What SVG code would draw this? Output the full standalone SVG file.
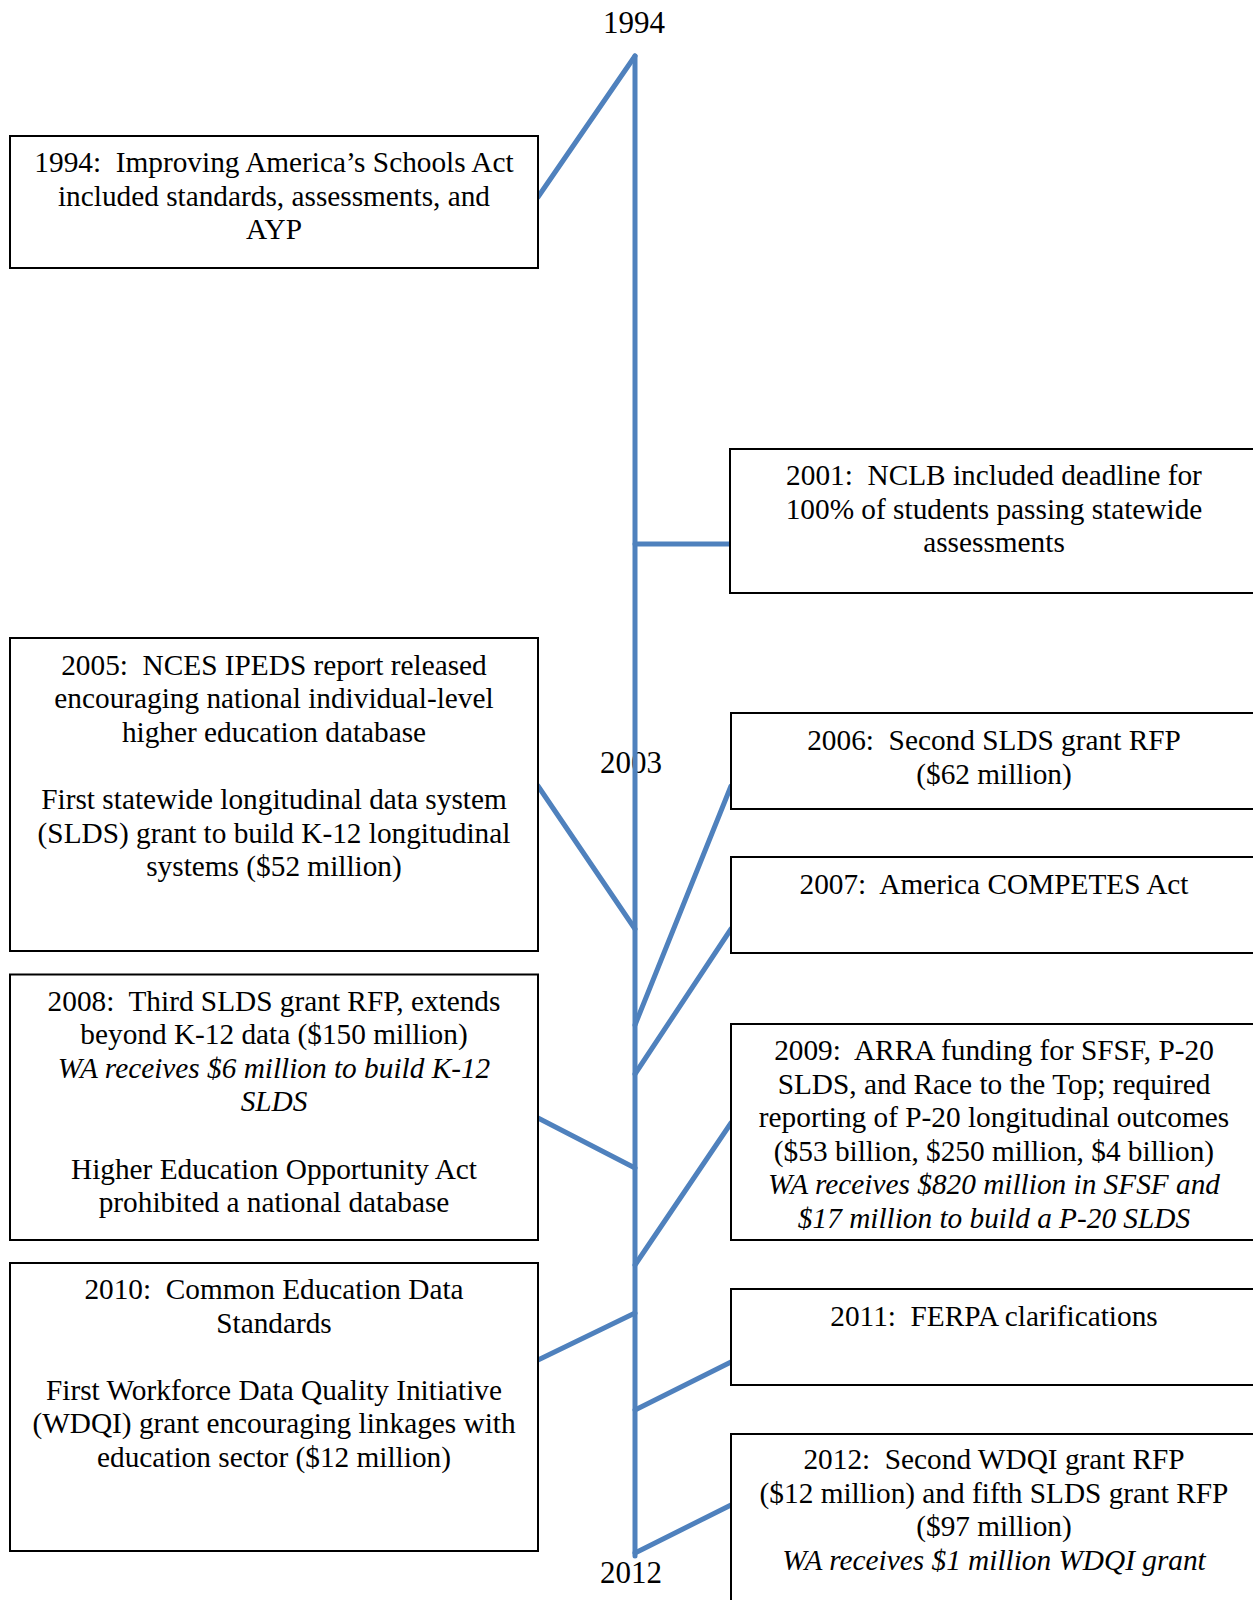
<svg xmlns="http://www.w3.org/2000/svg" width="1253" height="1600" viewBox="0 0 1253 1600" xml:space="preserve">
<style>
  .box { fill: #ffffff; stroke: #000000; stroke-width: 2; }
  text { font-family: "Liberation Serif", "Times New Roman", serif; fill: #000000; white-space: pre; }
  .t { font-size: 29.3px; text-anchor: middle; }
  .i { font-style: italic; }
  .yr { font-size: 31px; text-anchor: middle; }
  .con { stroke: #4f81bd; stroke-width: 5; fill: none; stroke-linecap: round; }
</style>
<rect x="0" y="0" width="1253" height="1600" fill="#ffffff"/>
<g id="year-labels">
  <text class="yr" x="634" y="33">1994</text>
  <text class="yr" x="631" y="773">2003</text>
  <text class="yr" x="631" y="1583">2012</text>
</g>
<g id="connectors">
  <line class="con" x1="635" y1="56" x2="635" y2="1556"/>
  <line class="con" x1="538" y1="197" x2="635" y2="56"/>
  <line class="con" x1="635" y1="544" x2="730" y2="544"/>
  <line class="con" x1="538" y1="786" x2="635" y2="929"/>
  <line class="con" x1="635" y1="1025" x2="731" y2="786"/>
  <line class="con" x1="635" y1="1074" x2="731" y2="929"/>
  <line class="con" x1="538" y1="1118" x2="635" y2="1168"/>
  <line class="con" x1="635" y1="1265" x2="731" y2="1123"/>
  <line class="con" x1="538" y1="1360" x2="635" y2="1313"/>
  <line class="con" x1="635" y1="1410" x2="731" y2="1362"/>
  <line class="con" x1="635" y1="1553" x2="731" y2="1505"/>
</g>
<g id="node-1994">
  <rect class="box" x="10" y="136" width="528" height="132"/>
  <text class="t" x="274" y="172">1994:  Improving America’s Schools Act</text>
  <text class="t" x="274" y="205.6">included standards, assessments, and</text>
  <text class="t" x="274" y="239.2">AYP</text>
</g>
<g id="node-2001">
  <rect class="box" x="730" y="449" width="528" height="144"/>
  <text class="t" x="994" y="485">2001:  NCLB included deadline for</text>
  <text class="t" x="994" y="518.6">100% of students passing statewide</text>
  <text class="t" x="994" y="552.2">assessments</text>
</g>
<g id="node-2005">
  <rect class="box" x="10" y="638" width="528" height="313"/>
  <text class="t" x="274" y="674.5">2005:  NCES IPEDS report released</text>
  <text class="t" x="274" y="708">encouraging national individual-level</text>
  <text class="t" x="274" y="741.7">higher education database</text>
  <text class="t" x="274" y="808.9">First statewide longitudinal data system</text>
  <text class="t" x="274" y="842.5">(SLDS) grant to build K-12 longitudinal</text>
  <text class="t" x="274" y="876">systems ($52 million)</text>
</g>
<g id="node-2006">
  <rect class="box" x="731" y="713" width="527" height="96"/>
  <text class="t" x="994" y="750">2006:  Second SLDS grant RFP</text>
  <text class="t" x="994" y="783.6">($62 million)</text>
</g>
<g id="node-2007">
  <rect class="box" x="731" y="857" width="527" height="96"/>
  <text class="t" x="994" y="894">2007:  America COMPETES Act</text>
</g>
<g id="node-2008">
  <rect class="box" x="10" y="974.5" width="528" height="265.5"/>
  <text class="t" x="274" y="1010.5">2008:  Third SLDS grant RFP, extends</text>
  <text class="t" x="274" y="1044">beyond K-12 data ($150 million)</text>
  <text class="t i" x="274" y="1077.7">WA receives $6 million to build K-12</text>
  <text class="t i" x="274" y="1111.3">SLDS</text>
  <text class="t" x="274" y="1178.5">Higher Education Opportunity Act</text>
  <text class="t" x="274" y="1212">prohibited a national database</text>
</g>
<g id="node-2009">
  <rect class="box" x="731" y="1024" width="527" height="216"/>
  <text class="t" x="994" y="1060">2009:  ARRA funding for SFSF, P-20</text>
  <text class="t" x="994" y="1093.6">SLDS, and Race to the Top; required</text>
  <text class="t" x="994" y="1127.2">reporting of P-20 longitudinal outcomes</text>
  <text class="t" x="994" y="1160.8">($53 billion, $250 million, $4 billion)</text>
  <text class="t i" x="994" y="1194.4">WA receives $820 million in SFSF and</text>
  <text class="t i" x="994" y="1228">$17 million to build a P-20 SLDS</text>
</g>
<g id="node-2010">
  <rect class="box" x="10" y="1263" width="528" height="288"/>
  <text class="t" x="274" y="1299">2010:  Common Education Data</text>
  <text class="t" x="274" y="1332.6">Standards</text>
  <text class="t" x="274" y="1399.8">First Workforce Data Quality Initiative</text>
  <text class="t" x="274" y="1433.4">(WDQI) grant encouraging linkages with</text>
  <text class="t" x="274" y="1467">education sector ($12 million)</text>
</g>
<g id="node-2011">
  <rect class="box" x="731" y="1289" width="527" height="96"/>
  <text class="t" x="994" y="1326">2011:  FERPA clarifications</text>
</g>
<g id="node-2012">
  <rect class="box" x="731" y="1434" width="527" height="170"/>
  <text class="t" x="994" y="1469">2012:  Second WDQI grant RFP</text>
  <text class="t" x="994" y="1502.6">($12 million) and fifth SLDS grant RFP</text>
  <text class="t" x="994" y="1536">($97 million)</text>
  <text class="t i" x="994" y="1569.6">WA receives $1 million WDQI grant</text>
</g>
</svg>
